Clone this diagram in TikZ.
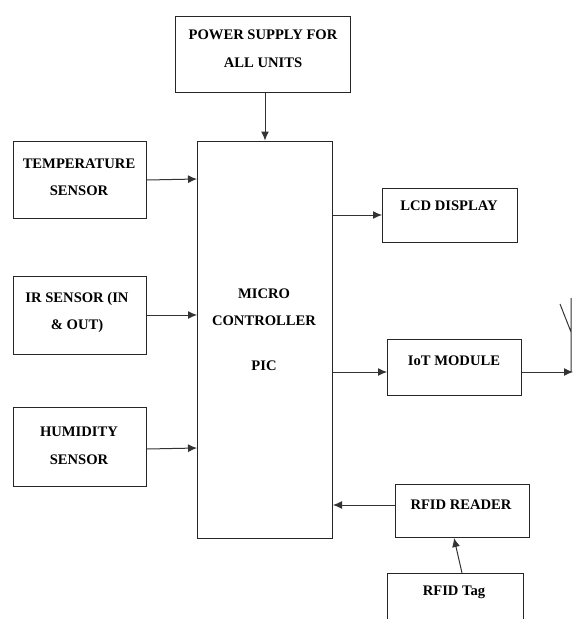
\documentclass[tikz,border=0pt]{standalone}
\usepackage{fontspec}
\setmainfont{Liberation Serif}
\usetikzlibrary{arrows.meta}
\begin{document}
\begin{tikzpicture}[x=1pt,y=-1pt,
 blockbox/.style={draw=black!85,line width=1pt,fill=white,inner sep=0pt},
 blocktext/.style={align=center,font=\bfseries\fontsize{14.6}{27.5}\selectfont,inner sep=0pt,text=black},
 conn/.style={draw=black!80,line width=1pt,-{Latex[length=9pt,width=8pt]}}]
\useasboundingbox (0,0) rectangle (573,619);
\node[blockbox,minimum width=175,minimum height=76] (ps) at (263,54) {};
\node[blocktext] (pst) at (263,48.5) {POWER SUPPLY FOR\\ALL UNITS};
\node[blockbox,minimum width=135,minimum height=397] (mc) at (265,339.5) {};
\node[blocktext] (mct) at (264,307) {MICRO\\CONTROLLER};
\node[blocktext] (pic) at (264,366) {PIC};
\node[blockbox,minimum width=133,minimum height=77] (ts) at (80,180) {};
\node[blocktext] (tst) at (79,177) {TEMPERATURE\\SENSOR};
\node[blockbox,minimum width=133,minimum height=78] (ir) at (80,315) {};
\node[blocktext] (irt) at (77,312.5) {IR SENSOR (IN\\\& OUT)};
\node[blockbox,minimum width=133,minimum height=79] (hs) at (80,447) {};
\node[blocktext] (hst) at (79,446) {HUMIDITY\\SENSOR};
\node[blockbox,minimum width=135,minimum height=54] (lcd) at (450,215) {};
\node[blocktext] (lcdt) at (449,206) {LCD DISPLAY};
\node[blockbox,minimum width=134,minimum height=56] (iot) at (454.5,367) {};
\node[blocktext] (iott) at (454,361) {IoT MODULE};
\node[blockbox,minimum width=134,minimum height=53] (rr) at (462,511) {};
\node[blocktext] (rrt) at (461,505) {RFID READER};
\coordinate (ttl) at (387,619);\coordinate (ttr) at (523,619);
\coordinate (tl0) at (387,573);\coordinate (tr0) at (523,573);
\draw[draw=black!85,line width=1pt] (ttl) -- (tl0) -- (tr0) -- (ttr);
\node[blocktext] (tag) at (454,592) {RFID Tag};
\draw[conn] (mc.north |- ps.south) -- (mc.north);
\draw[conn] (ts.east) -- (mc.west |- 0,179);
\draw[conn] (ir.east) -- (mc.west |- ir.east);
\draw[conn] (hs.east) ++(0,2) -- (mc.west |- 0,448);
\draw[conn] (mc.east |- lcd.west) -- (lcd.west);
\draw[conn] (mc.east |- 0,372) -- (iot.west |- 0,372);
\draw[conn] (rr.west) ++(0,-6) -- (mc.east |- 0,505);
\draw[conn] (rr.south |- tl0) -- (rr.south -| 454,0);
\coordinate (antb) at (573,372);
\coordinate (antt) at (571,298);
\coordinate (ants) at (560,304);
\coordinate (antj) at (571,332);
\draw[conn] (iot.east |- antb) -- (antb);
\draw[draw=black!80,line width=1pt] (antt) -- (571,372) (ants) -- (antj);
\end{tikzpicture}
\end{document}
